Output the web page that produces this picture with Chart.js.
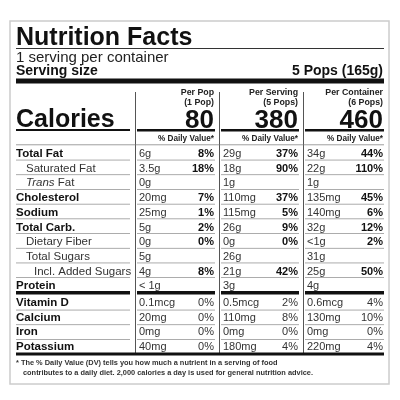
<!DOCTYPE html>
<html><head><meta charset="utf-8">
<script src="https://cdn.jsdelivr.net/npm/chart.js@4"></script>
<style>html,body{margin:0;padding:0;background:#fff}#w{width:400px;height:400px}</style>
</head><body><div id="w"><canvas id="c"></canvas></div>
<script>
const rowLabels=["Total Fat","Saturated Fat","Trans Fat","Cholesterol","Sodium","Total Carb.","Dietary Fiber","Total Sugars","Incl. Added Sugars","Protein"];
const rowBold=[1,0,0,1,1,1,0,0,0,1];
const rowIndent=[0,1,1,0,0,0,1,1,2,0];
const perPopAmt=["6g","3.5g","0g","20mg","25mg","5g","0g","5g","4g","< 1g"];
const perPopDV=["8%","18%","","7%","1%","2%","0%","","8%",""];
const perServAmt=["29g","18g","1g","110mg","115mg","26g","0g","26g","21g","3g"];
const perServDV=["37%","90%","","37%","5%","9%","0%","","42%",""];
const perContAmt=["34g","22g","1g","135mg","140mg","32g","<1g","31g","25g","4g"];
const perContDV=["44%","110%","","45%","6%","12%","2%","","50%",""];
const vitLabels=["Vitamin D","Calcium","Iron","Potassium"];
const vitPop=["0.1mcg","20mg","0mg","40mg"], vitPopDV=["0%","0%","0%","0%"];
const vitServ=["0.5mcg","110mg","0mg","180mg"], vitServDV=["2%","8%","0%","4%"];
const vitCont=["0.6mcg","130mg","0mg","220mg"], vitContDV=["4%","10%","0%","4%"];
const colHead1=["Per Pop","Per Serving","Per Container"];
const colHead2=["(1 Pop)","(5 Pops)","(6 Pops)"];
const calories=[80,380,460];

const F="'Liberation Sans', Arial, sans-serif";
const label={id:'label',afterDraw(ch){
 const c=ch.ctx,X=v=>ch.scales.x.getPixelForValue(v),Y=v=>ch.scales.y.getPixelForValue(v);
 c.save();
 const rect=(x1,y1,x2,y2,col)=>{c.fillStyle=col;c.fillRect(X(x1),Y(y1),X(x2)-X(x1),Y(y2)-Y(y1));};
 const txt=(s,x,y,font,align,col)=>{c.font=font;c.textAlign=align||'left';c.textBaseline='alphabetic';c.fillStyle=col||'#111';c.fillText(s,X(x),Y(y));};
 c.strokeStyle='#ccc';c.lineWidth=1.5;c.strokeRect(X(10),Y(21),X(389)-X(10),Y(384)-Y(21));
 txt("Nutrition Facts",16,45,"bold 25px "+F);
 rect(16,48,384,49,'#333');
 txt("1 serving per container",16,62,"15px "+F,'left','#222');
 txt("Serving size",16,75,"bold 14px "+F);
 txt("5 Pops (165g)",383,75,"bold 14px "+F,'right');
 rect(16,78.5,384,83.5,'#111');
 const cols=[[137,214],[221,298],[305,383]];
 c.fillStyle='#555';
 [135,219,303].forEach(x=>c.fillRect(X(x),Y(92),1,Y(353)-Y(92)));
 txt("Calories",16,127,"bold 25px "+F);
 rect(16,129,130,131,'#111');
 cols.forEach((cc,i)=>{
  txt(colHead1[i],cc[1],95,"bold 8.8px "+F,'right','#222');
  txt(colHead2[i],cc[1],105,"bold 8.8px "+F,'right','#222');
  txt(String(calories[i]),cc[1],128,"bold 26px "+F,'right');
  rect(cc[0],129,cc[1]+1,131.5,'#111');
  txt("% Daily Value*",cc[1],141,"bold 8.2px "+F,'right','#222');
 });
 rect(16,144.5,384,145.2,'#777');
 const amts=[perPopAmt,perServAmt,perContAmt],dvs=[perPopDV,perServDV,perContDV];
 rowLabels.forEach((l,r)=>{
  const yb=157+r*14.7, yl=145+(r+1)*14.7;
  let font=(rowBold[r]?"bold ":"")+"11.5px "+F;
  const ix=16+[0,10,18][rowIndent[r]];
  if(l==="Trans Fat"){txt("Trans",ix,yb,"italic 11.5px "+F,'left','#333');c.font="italic 11.5px "+F;const w=c.measureText("Trans ").width;c.font="11.5px "+F;c.fillStyle='#333';c.textAlign='left';c.fillText("Fat",X(ix)+w,Y(yb));}
  else txt(l,ix,yb,font,'left',rowBold[r]?'#111':'#333');
  cols.forEach((cc,i)=>{
   txt(amts[i][r],cc[0]+2,yb,"11px "+F,'left','#333');
   if(dvs[i][r])txt(dvs[i][r],cc[1],yb,"bold 11px "+F,'right');
  });
  if(r<rowLabels.length-1){rect(16,yl,130,yl+0.7,'#888');cols.forEach(cc=>rect(cc[0],yl,cc[1]+1,yl+0.7,'#888'));}
 });
 rect(16,291,130,294.5,'#111');cols.forEach(cc=>rect(cc[0],291,cc[1]+1,294.5,'#111'));
 const va=[vitPop,vitServ,vitCont],vd=[vitPopDV,vitServDV,vitContDV];
 vitLabels.forEach((l,r)=>{
  const yb=306+r*14.7, yl=295+(r+1)*14.7;
  txt(l,16,yb,"bold 11.5px "+F);
  cols.forEach((cc,i)=>{txt(va[i][r],cc[0]+2,yb,"11px "+F,'left','#333');txt(vd[i][r],cc[1],yb,"11px "+F,'right','#333');});
  if(r<3){rect(16,yl,130,yl+0.7,'#888');cols.forEach(cc=>rect(cc[0],yl,cc[1]+1,yl+0.7,'#888'));}
 });
 rect(16,352.5,384,355.5,'#111');
 txt("* The % Daily Value (DV) tells you how much a nutrient in a serving of food",16,365,"bold 7.4px "+F,'left','#333');
 txt("contributes to a daily diet. 2,000 calories a day is used for general nutrition advice.",23,375,"bold 7.4px "+F,'left','#333');
 c.restore();
}};
new Chart(document.getElementById('c'),{type:'scatter',data:{datasets:[{data:[]}]},
 options:{responsive:true,maintainAspectRatio:false,animation:false,layout:{padding:0},
  plugins:{legend:{display:false},tooltip:{enabled:false}},
  scales:{x:{type:'linear',min:0,max:400,display:false},y:{type:'linear',min:0,max:400,reverse:true,display:false}}},
 plugins:[label]});
</script></body></html>
